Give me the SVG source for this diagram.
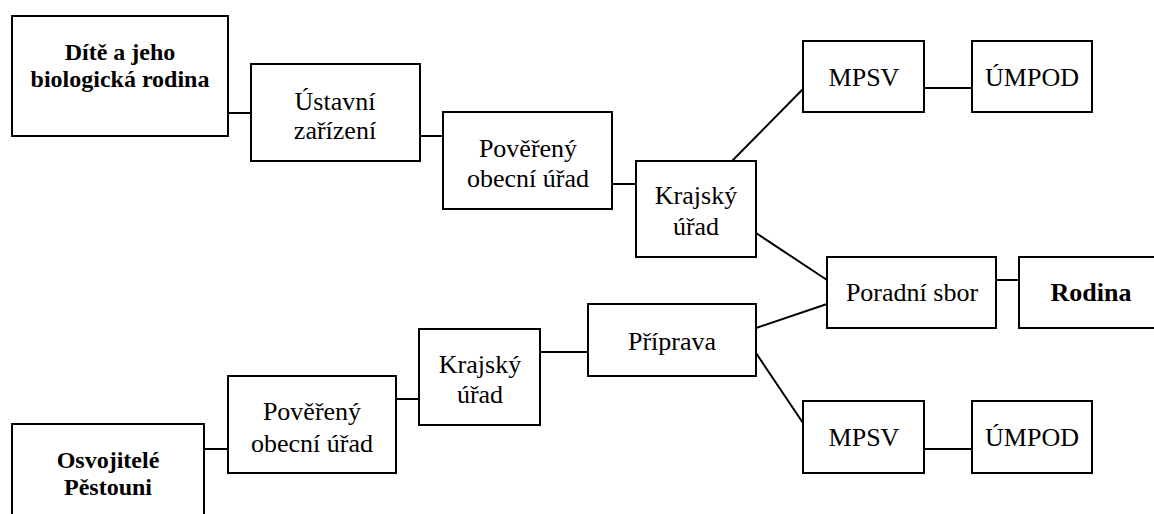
<svg xmlns="http://www.w3.org/2000/svg" width="1154" height="514" viewBox="0 0 1154 514">
<style>
rect{fill:#fff;stroke:#000;stroke-width:2}
line{stroke:#000;stroke-width:2}
text{font-size:26px;fill:#000;text-anchor:middle}
text.b{font-weight:bold;font-size:24px}
text.r{font-weight:bold;font-size:26px}
</style>
<rect width="1154" height="514" style="fill:#fff;stroke:none"/>
<g id="connectors">
<line x1="228" y1="113" x2="251" y2="113"/>
<line x1="420" y1="136" x2="443" y2="136"/>
<line x1="612" y1="184" x2="636" y2="184"/>
<line x1="732" y1="161" x2="803" y2="89"/>
<line x1="924" y1="88" x2="972" y2="88"/>
<line x1="756" y1="233" x2="827" y2="280"/>
<line x1="996" y1="280" x2="1019" y2="280"/>
<line x1="204" y1="449" x2="228" y2="449"/>
<line x1="396" y1="399" x2="419" y2="399"/>
<line x1="540" y1="352" x2="588" y2="352"/>
<line x1="756" y1="328" x2="827" y2="304"/>
<line x1="756" y1="353" x2="803" y2="423"/>
<line x1="924" y1="449" x2="972" y2="449"/>
</g>
<g font-family="Liberation Serif, Tinos, DejaVu Serif, serif">
<g id="dite">
<rect x="12" y="16" width="216" height="120"/>
<text class="b" x="120" y="60">Dítě a jeho</text>
<text class="b" x="120" y="87">biologická rodina</text>
</g>
<g id="ustavni">
<rect x="251" y="64" width="169" height="97"/>
<text x="335" y="110">Ústavní</text>
<text x="335" y="139">zařízení</text>
</g>
<g id="povereny1">
<rect x="443" y="112" width="169" height="97"/>
<text x="528" y="157">Pověřený</text>
<text x="528" y="187">obecní úřad</text>
</g>
<g id="krajsky1">
<rect x="636" y="161" width="120" height="96"/>
<text x="696" y="204">Krajský</text>
<text x="696" y="235">úřad</text>
</g>
<g id="mpsv1">
<rect x="803" y="41" width="121" height="71"/>
<text x="864" y="86">MPSV</text>
</g>
<g id="umpod1">
<rect x="972" y="41" width="120" height="71"/>
<text x="1032" y="86">ÚMPOD</text>
</g>
<g id="poradni">
<rect x="827" y="257" width="169" height="71"/>
<text x="912" y="301">Poradní sbor</text>
</g>
<g id="rodina">
<rect x="1019" y="257" width="145" height="71"/>
<text class="r" x="1091" y="301">Rodina</text>
</g>
<g id="osvojitele">
<rect x="12" y="424" width="192" height="100"/>
<text class="b" x="108" y="468">Osvojitelé</text>
<text class="b" x="108" y="495">Pěstouni</text>
</g>
<g id="povereny2">
<rect x="228" y="376" width="168" height="97"/>
<text x="312" y="420">Pověřený</text>
<text x="312" y="452">obecní úřad</text>
</g>
<g id="krajsky2">
<rect x="419" y="329" width="121" height="96"/>
<text x="480" y="373">Krajský</text>
<text x="480" y="403">úřad</text>
</g>
<g id="priprava">
<rect x="588" y="304" width="168" height="72"/>
<text x="672" y="350">Příprava</text>
</g>
<g id="mpsv2">
<rect x="803" y="401" width="121" height="72"/>
<text x="864" y="446">MPSV</text>
</g>
<g id="umpod2">
<rect x="972" y="401" width="120" height="72"/>
<text x="1032" y="446">ÚMPOD</text>
</g>
</g>
</svg>
